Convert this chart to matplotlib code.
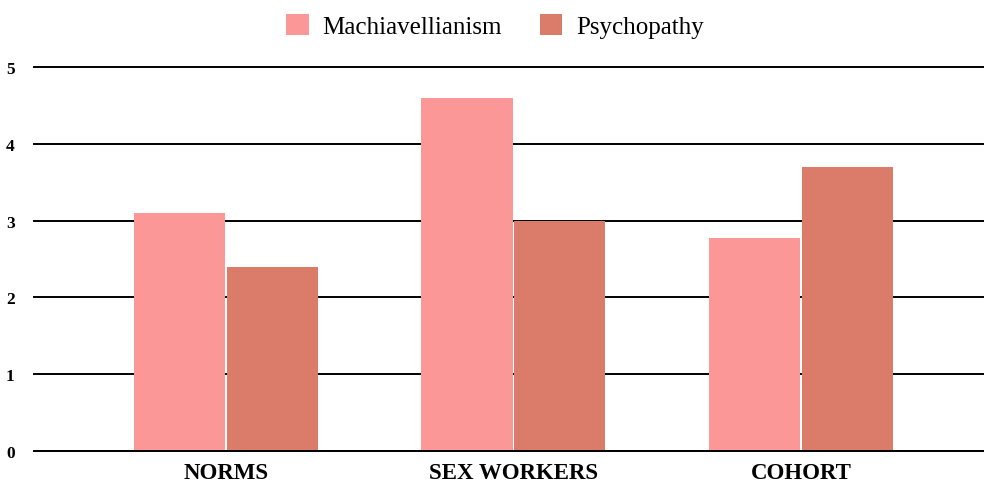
import matplotlib.pyplot as plt
import numpy as np

categories = ['NORMS', 'SEX WORKERS', 'COHORT']
machiavellianism = [3.1, 4.6, 2.77]
psychopathy = [2.4, 3.0, 3.7]
series_names = ['Machiavellianism', 'Psychopathy']
colors = ['#fb9796', '#db7c6a']
y_ticks = [0, 1, 2, 3, 4, 5]

plt.rcParams['font.family'] = ['Liberation Serif', 'DejaVu Serif']

fig = plt.figure(figsize=(9.84, 4.89), dpi=100)
ax = fig.add_axes([34 / 984, 37 / 489, 950 / 984, 384 / 489])

x = np.arange(len(categories))
width = 0.317
ax.bar(x - width / 2 - 0.003, machiavellianism, width, color=colors[0],
       label=series_names[0], zorder=3)
ax.bar(x + width / 2 + 0.003, psychopathy, width, color=colors[1],
       label=series_names[1], zorder=3)

ax.set_xlim(-0.668, 2.637)
ax.set_ylim(0, 5)
ax.set_yticks(y_ticks)
ax.set_yticklabels([str(t) for t in y_ticks], fontsize=12.5, fontweight='bold')
ax.set_xticks(x)
ax.set_xticklabels(categories, fontsize=16.5, fontweight='bold')
ax.tick_params(axis='both', length=0)
ax.tick_params(axis='y', pad=14)
ax.tick_params(axis='x', pad=8)

ax.yaxis.grid(True, color='black', linewidth=1.4, zorder=1)
for line in ax.get_ygridlines():
    line.set_clip_on(False)
for s in ['top', 'right', 'left']:
    ax.spines[s].set_visible(False)
ax.spines['bottom'].set_color('black')
ax.spines['bottom'].set_linewidth(1.4)
ax.spines['bottom'].set_zorder(4)

fig.legend(loc='upper center', bbox_to_anchor=(0.503, 1.015), ncol=2, frameon=False,
           fontsize=18, handlelength=0.9, handleheight=0.9, columnspacing=1.5,
           handletextpad=0.55)

fig.savefig('out.png', dpi=100)
